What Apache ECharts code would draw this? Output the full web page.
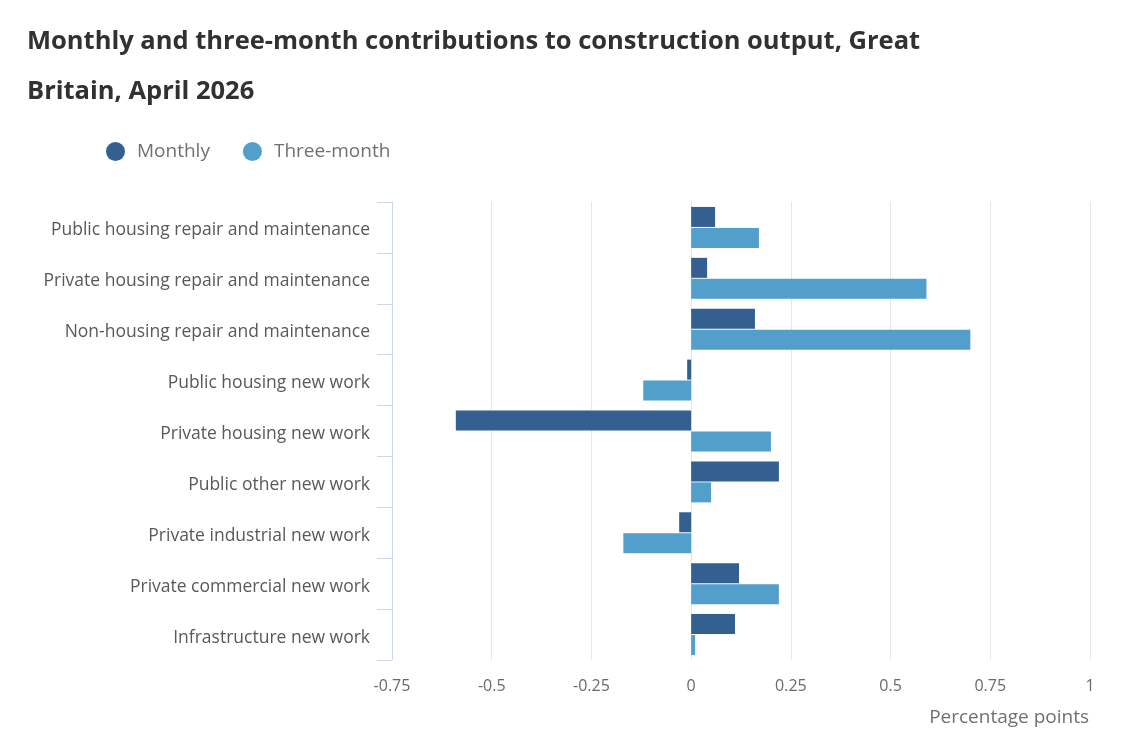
<!DOCTYPE html>
<html>
<head>
<meta charset="utf-8">
<script src="https://cdn.jsdelivr.net/npm/echarts@6/dist/echarts.min.js"></script>
<style>
	html, body { margin: 0; padding: 0; background: #fff; }
	#chart { width: 1146px; height: 748px; }
</style>
</head>
<body>
<div id="chart"></div>
<script>
const categories = [
	'Public housing repair and maintenance',
	'Private housing repair and maintenance',
	'Non-housing repair and maintenance',
	'Public housing new work',
	'Private housing new work',
	'Public other new work',
	'Private industrial new work',
	'Private commercial new work',
	'Infrastructure new work'
];
const monthly = [0.06, 0.04, 0.16, -0.01, -0.59, 0.22, -0.03, 0.12, 0.11];
const threeMonth = [0.17, 0.59, 0.70, -0.12, 0.20, 0.05, -0.17, 0.22, 0.01];
const xTicks = { min: -0.75, max: 1, step: 0.25 };

const font = '"Open Sans", "Noto Sans", sans-serif';
let chart = echarts.init(document.getElementById('chart'));

let option = {
	animation: false,
	title: [{
		text: 'Monthly and three-month contributions to construction output, Great\nBritain, April 2026',
		left: 22,
		top: 12,
		textStyle: {
			fontFamily: font,
			fontSize: 25.5,
			fontWeight: 'bold',
			color: '#323132',
			lineHeight: 50
		}
	}, {
		text: 'Percentage points',
		right: 52,
		top: 703,
		textStyle: {
			fontFamily: font,
			fontSize: 19,
			fontWeight: 'normal',
			color: '#707070'
		}
	}],
	legend: {
		left: 101,
		top: 137,
		icon: 'circle',
		itemWidth: 19,
		itemHeight: 19,
		itemGap: 33,
		textStyle: {
			fontFamily: font,
			fontSize: 19,
			color: '#707070',
			padding: [0, 0, 0, 7]
		}
	},
	grid: {
		left: 392,
		right: 56,
		top: 202,
		bottom: 88,
		containLabel: false
	},
	xAxis: {
		type: 'value',
		min: xTicks.min,
		max: xTicks.max,
		interval: xTicks.step,
		axisLine: { show: false },
		axisTick: { show: false },
		axisLabel: {
			fontFamily: font,
			fontSize: 16,
			color: '#6a6a6a',
			margin: 18
		},
		splitLine: { lineStyle: { color: '#e6e6e6', width: 1 } }
	},
	yAxis: {
		type: 'category',
		data: categories,
		inverse: true,
		axisLine: { show: true, onZero: false, lineStyle: { color: '#ccd6eb', width: 1 } },
		axisTick: { show: true, length: 15, lineStyle: { color: '#ccd6eb' } },
		axisLabel: {
			margin: 22,
			formatter: (v) => '{a|' + v + '}',
			rich: {
				a: {
					fontFamily: font,
					fontSize: 17.5,
					color: '#595959',
					padding: [6, 0, 0, 0]
				}
			}
		}
	},
	series: [{
		name: 'Monthly',
		type: 'bar',
		data: monthly,
		barWidth: 20,
		barGap: '5%',
		itemStyle: { color: '#335f91' }
	}, {
		name: 'Three-month',
		type: 'bar',
		data: threeMonth,
		barWidth: 20,
		barGap: '5%',
		itemStyle: { color: '#519fca' }
	}]
};
chart.setOption(option);
</script>
</body>
</html>
